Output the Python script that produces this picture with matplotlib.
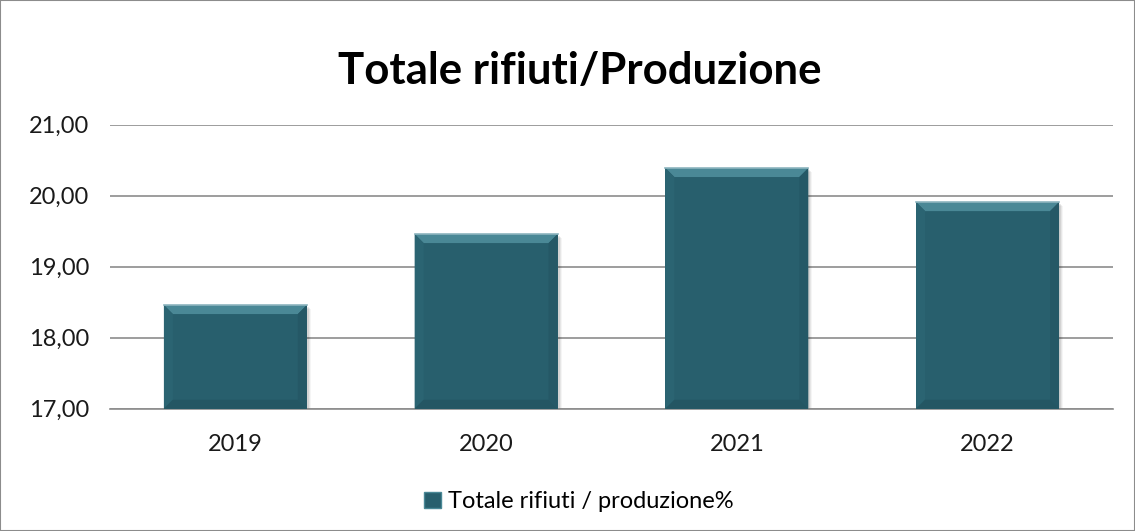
import matplotlib.pyplot as plt
import matplotlib.patches as mpatches
from matplotlib.transforms import ScaledTranslation
import numpy as np

years = ['2019', '2020', '2021', '2022']
values = [18.46, 19.46, 20.39, 19.91]
y_ticks = [17, 18, 19, 20, 21]
series_name = 'Totale rifiuti / produzione%'
title = 'Totale rifiuti/Produzione'

plt.rcParams['font.family'] = ['Lato', 'DejaVu Sans']

fig = plt.figure(figsize=(11.35, 5.31), dpi=100)
fig.patches.append(mpatches.Rectangle((0, 0), 1, 1, transform=fig.transFigure,
                                      fill=False, edgecolor='#8c8c8c', lw=1.5))
ax = fig.add_axes([0.0969, 0.2303, 0.8837, 0.5348])

x = np.arange(len(years))
ax.set_ylim(17, 21)
ax.set_xlim(-0.5, len(years) - 0.5)

bar_w = 0.57
base = '#285f6d'
bars = ax.bar(x, np.array(values) - 17, bar_w, bottom=17, color=base,
              zorder=3, label=series_name)

# bevel + soft shadow, computed from each bar's own geometry
d = 9  # bevel size in pixels
tr = ax.transData
inv = tr.inverted()
for b in bars:
    x0, y0, w, h = b.get_x(), b.get_y(), b.get_width(), b.get_height()
    for k, a in [(4, 0.04), (3, 0.06), (2, 0.08)]:
        sh = mpatches.Rectangle((x0, y0), w, h, color='black', alpha=a, zorder=2, lw=0,
                                transform=tr + ScaledTranslation(k / 100, -k / 100, fig.dpi_scale_trans))
        ax.add_patch(sh)
    p_tl = tr.transform((x0, y0 + h))
    p_tr = tr.transform((x0 + w, y0 + h))
    p_bl = tr.transform((x0, y0))
    p_br = tr.transform((x0 + w, y0))
    top = [p_tl, p_tr, (p_tr[0] - d, p_tr[1] - d), (p_tl[0] + d, p_tl[1] - d)]
    left = [p_tl, (p_tl[0] + d, p_tl[1] - d), (p_bl[0] + d, p_bl[1] + d), p_bl]
    right = [p_tr, (p_tr[0] - d, p_tr[1] - d), (p_br[0] - d, p_br[1] + d), p_br]
    bottom = [p_bl, (p_bl[0] + d, p_bl[1] + d), (p_br[0] - d, p_br[1] + d), p_br]
    for poly, col in [(top, '#4a8896'), (left, '#2b6472'), (right, '#255866'), (bottom, '#245663')]:
        ax.add_patch(mpatches.Polygon([inv.transform(p) for p in poly], closed=True,
                                      color=col, zorder=4, lw=0))
    ax.plot([x0, x0 + w], [y0 + h, y0 + h], color='#8db5bf', lw=1.2, zorder=5)

ax.set_yticks(y_ticks)
ax.set_yticklabels([f'{v:.2f}'.replace('.', ',') for v in y_ticks])
ax.set_xticks(x)
ax.set_xticklabels(years)
ax.tick_params(axis='both', length=0, labelsize=17, colors='#1a1a1a')
ax.tick_params(axis='x', pad=18)
ax.tick_params(axis='y', pad=15)
ax.grid(axis='y', color='#8c8c8c', lw=1.2, zorder=0)
for s in ['top', 'left', 'right']:
    ax.spines[s].set_visible(False)
ax.spines['bottom'].set_color('#8c8c8c')
ax.spines['bottom'].set_linewidth(1.2)

fig.text(0.511, 0.866, title, ha='center', va='center', fontsize=31.5, fontweight='bold', color='black')

handle = mpatches.Patch(facecolor=base, edgecolor='#4a8896')
fig.legend([handle], [series_name], loc='center', bbox_to_anchor=(0.51, 0.055), frameon=False,
           fontsize=17, handlelength=0.7, handleheight=0.7, handletextpad=0.3)

fig.savefig('out.png', dpi=100)
